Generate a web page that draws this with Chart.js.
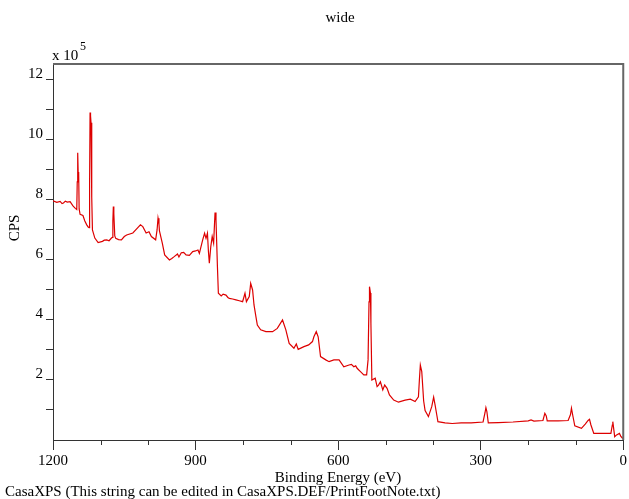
<!DOCTYPE html>
<html>
<head>
<meta charset="utf-8">
<script src="https://cdn.jsdelivr.net/npm/chart.js@4.4.0/dist/chart.umd.min.js"></script>
<style>
  html, body { margin: 0; padding: 0; background: #fff; }
  #wrap { width: 629px; height: 499px; position: relative; }
</style>
</head>
<body>
<div id="wrap"><canvas id="spectrumChart"></canvas></div>
<script>
// survey spectrum
const bindingEnergy = [
  1200, 1192, 1185, 1181, 1178, 1174, 1170, 1164, 1158, 1153, 1150, 1149, 1148, 1147, 1146,
  1145, 1143, 1137, 1133, 1129, 1126, 1124, 1123, 1122, 1121, 1120, 1119, 1118, 1117, 1112,
  1105, 1096, 1092, 1087, 1082, 1077, 1075, 1074, 1073, 1072, 1070, 1068, 1062, 1056, 1050,
  1045, 1032, 1022, 1016, 1011, 1004, 998, 993, 984, 981, 979, 977, 976, 970, 965,
  955, 950, 945, 938, 935, 930, 925, 920, 913, 906, 900, 895, 892, 885, 881,
  878, 875, 873, 871, 868, 865, 862, 859, 857, 854, 852, 846, 842, 836, 832,
  829, 822, 815, 808, 801, 796, 793, 787, 784, 780, 777, 773, 770, 763, 752,
  738, 728, 717, 710, 703, 693, 688, 684, 672, 662, 654, 651, 646, 642, 637,
  626, 619, 609, 598, 588, 577, 572, 567, 563, 560, 553, 546, 540, 537, 535,
  534, 532, 531, 529, 522, 518, 515, 511, 506, 502, 497, 492, 483, 473, 459,
  448, 438, 431, 429, 427, 424, 420, 417, 410, 403, 399, 396, 392, 390, 375,
  360, 341, 320, 295, 291, 289, 287, 284, 263, 232, 200, 194, 188, 169, 165,
  162, 160, 137, 116, 111, 109, 106, 102, 88, 80, 74, 71, 68, 62, 43,
  26, 23, 22, 18, 14, 8, 5, 1
];
// CPS in units of 10^5
const counts = [
  7.97, 7.92, 7.95, 7.88, 7.90, 7.96, 7.93, 7.94, 7.80, 7.72, 7.68, 8.60, 9.57, 8.90, 8.93,
  7.70, 7.52, 7.48, 7.30, 7.17, 7.10, 7.08, 8.50, 10.91, 10.80, 10.57, 10.50, 8.10, 7.00, 6.73,
  6.58, 6.62, 6.66, 6.67, 6.64, 6.73, 6.75, 7.30, 7.78, 7.55, 6.80, 6.72, 6.68, 6.67, 6.78,
  6.83, 6.90, 7.07, 7.17, 7.11, 6.90, 6.94, 6.78, 6.67, 7.00, 7.39, 7.20, 6.97, 6.56, 6.17,
  6.00, 6.05, 6.11, 6.20, 6.10, 6.24, 6.25, 6.17, 6.15, 6.28, 6.30, 6.33, 6.22, 6.67, 6.89,
  6.72, 6.89, 6.30, 5.89, 6.44, 6.78, 6.56, 7.58, 7.33, 5.78, 4.89, 4.80, 4.86, 4.83, 4.75,
  4.72, 4.70, 4.67, 4.64, 4.61, 4.89, 4.61, 4.78, 5.22, 5.00, 4.50, 4.11, 3.83, 3.67, 3.61,
  3.61, 3.72, 4.00, 3.67, 3.22, 3.06, 3.20, 3.02, 3.11, 3.17, 3.28, 3.44, 3.61, 3.44, 2.78,
  2.67, 2.61, 2.67, 2.67, 2.44, 2.50, 2.52, 2.44, 2.47, 2.39, 2.28, 2.17, 2.17, 2.67, 4.60,
  5.11, 4.90, 3.89, 2.00, 2.06, 1.78, 1.83, 1.94, 1.67, 1.83, 1.72, 1.50, 1.33, 1.26, 1.33,
  1.36, 1.28, 1.44, 2.00, 2.50, 2.28, 1.30, 0.98, 0.78, 1.11, 1.43, 1.17, 0.80, 0.61, 0.57,
  0.55, 0.57, 0.57, 0.60, 0.90, 1.08, 0.95, 0.57, 0.58, 0.60, 0.64, 0.67, 0.63, 0.65, 0.89,
  0.80, 0.64, 0.64, 0.65, 0.85, 1.06, 0.80, 0.47, 0.39, 0.53, 0.65, 0.69, 0.50, 0.22, 0.22,
  0.22, 0.50, 0.61, 0.11, 0.17, 0.22, 0.12, 0.05
];

const xTickLabels = [1200, 900, 600, 300, 0];
const yTickLabels = [2, 4, 6, 8, 10, 12];
const xMinorStep = 100;
const yMinorStep = 1;

const serif = 'Liberation Serif';

// frame, minor ticks on x and all the printed text
const casaDecor = {
    id: 'casaDecor',
    afterDraw(chart) {
        const { ctx, chartArea: a, scales } = chart;
        ctx.save();

        ctx.strokeStyle = '#333';
        ctx.lineWidth = 1;
        for (let e = 0; e <= 1200; e += xMinorStep) {
            if (xTickLabels.includes(e)) continue;
            const x = Math.round(scales.x.getPixelForValue(e)) + 0.5;
            ctx.beginPath();
            ctx.moveTo(x, a.bottom);
            ctx.lineTo(x, a.bottom + 5);
            ctx.stroke();
        }

        ctx.strokeStyle = '#666';
        ctx.lineWidth = 2;
        ctx.beginPath();
        ctx.moveTo(a.left, a.top);
        ctx.lineTo(a.right, a.top);
        ctx.lineTo(a.right, a.bottom);
        ctx.stroke();

        ctx.fillStyle = '#000';
        ctx.font = '15px "' + serif + '"';
        ctx.textAlign = 'center';
        ctx.textBaseline = 'middle';
        ctx.fillText('wide', 340, 18);
        ctx.fillText('Binding Energy (eV)', 338, 478);

        ctx.textAlign = 'left';
        ctx.fillText('CasaXPS (This string can be edited in CasaXPS.DEF/PrintFootNote.txt)', 5, 492);
        ctx.fillText('x 10', 52, 56);
        ctx.font = '12px "' + serif + '"';
        ctx.fillText('5', 80, 47);

        ctx.translate(15, 228);
        ctx.rotate(-Math.PI / 2);
        ctx.font = '15px "' + serif + '"';
        ctx.textAlign = 'center';
        ctx.fillText('CPS', 0, 0);

        ctx.restore();
    }
};

new Chart(document.getElementById('spectrumChart'), {
    type: 'line',
    data: {
        datasets: [{
            label: 'wide',
            data: bindingEnergy.map((e, i) => ({ x: e, y: counts[i] })),
            borderColor: '#dd0000',
            borderWidth: 1.2,
            pointRadius: 0,
            tension: 0,
            fill: false
        }]
    },
    options: {
        responsive: true,
        maintainAspectRatio: false,
        animation: false,
        layout: { padding: { top: 64, right: 3, left: 0, bottom: 0 } },
        plugins: {
            legend: { display: false },
            tooltip: { enabled: false }
        },
        scales: {
            x: {
                type: 'linear',
                reverse: true,
                min: 0,
                max: 1200,
                afterFit(scale) { scale.height = 59; },
                afterBuildTicks(scale) { scale.ticks = xTickLabels.map(v => ({ value: v })); },
                ticks: {
                    autoSkip: false,
                    maxRotation: 0,
                    padding: 2,
                    color: '#000',
                    font: { family: serif, size: 15 },
                    callback: v => String(v)
                },
                grid: { drawOnChartArea: false, tickLength: 10, tickColor: '#333' },
                border: { color: '#333', width: 1 }
            },
            y: {
                min: 0,
                max: 12.53,
                afterFit(scale) { scale.width = 53; },
                afterBuildTicks(scale) {
                    const t = [];
                    for (let v = yMinorStep; v <= 12; v += yMinorStep) t.push({ value: v });
                    scale.ticks = t;
                },
                ticks: {
                    autoSkip: false,
                    padding: 3,
                    labelOffset: -6,
                    color: '#000',
                    font: { family: serif, size: 15 },
                    callback: v => yTickLabels.includes(v) ? String(v) : ''
                },
                grid: { drawOnChartArea: false, tickLength: 7, tickColor: '#333' },
                border: { color: '#333', width: 1 }
            }
        }
    },
    plugins: [casaDecor]
});
</script>
</body>
</html>
